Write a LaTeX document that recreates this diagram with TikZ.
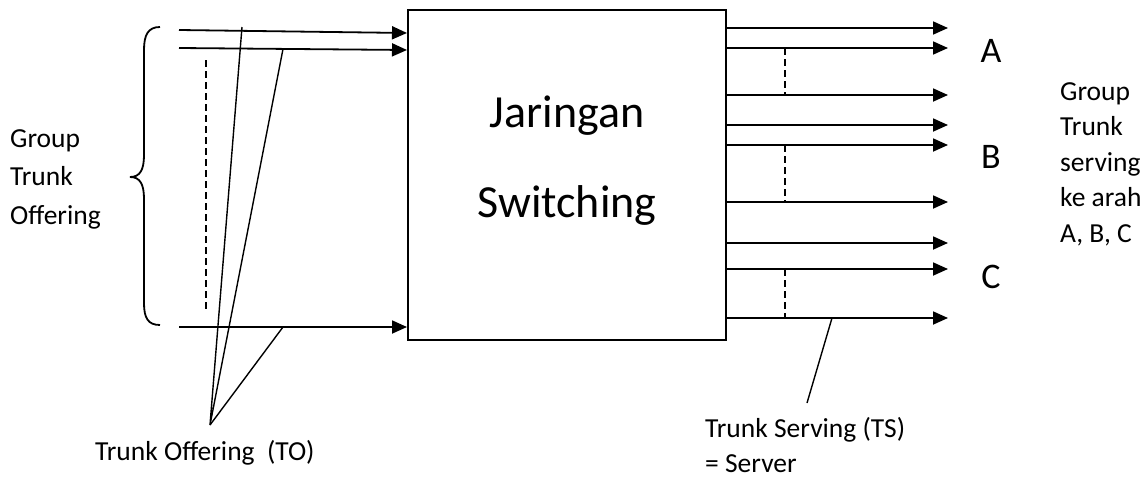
\documentclass[tikz,border=0pt]{standalone}
\usepackage{fontspec}
\setmainfont{Carlito}
\usetikzlibrary{arrows.meta}
\begin{document}
\begin{tikzpicture}[x=1pt,y=-1pt,
  lbl/.style={font=\fontsize{27.5}{33}\selectfont, inner sep=0pt, anchor=base west},
  big/.style={font=\fontsize{46}{55}\selectfont, inner sep=0pt, anchor=base},
  abc/.style={font=\fontsize{36}{43}\selectfont, inner sep=0pt, anchor=base},
  trunk/.style={line width=1.8pt, -{Triangle[length=15pt,width=13pt]}},
  lead/.style={line width=1.4pt},
  dsh/.style={line width=1.5pt, dash pattern=on 7pt off 4pt},
  boxst/.style={draw, line width=2pt, minimum width=318pt, minimum height=330pt, inner sep=0pt}]
\useasboundingbox (0,0) rectangle (1148,479);

% switching box
\node[boxst] (sw) at (567,175) {};
\node[big] (jar) at (567,127) {Jaringan};
\node[big] (swt) at (567,217) {Switching};

% input trunks
\coordinate (i1) at (179,30);
\coordinate (i2) at (179,48);
\coordinate (i3) at (179,327);
\draw[trunk] (i1) -- (sw.west |- 0,33);
\draw[trunk] (i2) -- (sw.west |- 0,50);
\draw[trunk] (i3) -- (sw.west |- 0,327);
\draw[dsh] (206,60) coordinate (d0) -- (206,312) coordinate (d1);

% brace
\draw[line width=1.8pt] (160,27) .. controls (148,27) and (144,35) .. (144,50)
  -- (144,155) .. controls (144,170) and (140,177) .. (130,177)
  .. controls (140,177) and (144,184) .. (144,199)
  -- (144,303) .. controls (144,318) and (148,325) .. (160,325);

% left labels
\node[lbl] (g1) at (10,147) {Group};
\node[lbl] (g2) at (10,185.5) {Trunk};
\node[lbl] (g3) at (10,224) {Offering};

% trunk offering leader lines
\coordinate (to) at (210,425);
\coordinate (t1) at (242,27);
\coordinate (t2) at (283,49);
\coordinate (t3) at (283,327);
\draw[lead] (t1) -- (to) -- (t2);
\draw[lead] (to) -- (t3);
\node[lbl] (tol) at (95,460) {Trunk Offering~~(TO)};

% output trunks
\foreach \y/\n in {28/o1,48/o2,95/o3,125/o4,145/o5,202/o6,243/o7,269/o8,318/o9}{
  \coordinate (\n) at (948,\y);
  \draw[trunk] (sw.east |- 0,\y) -- (\n);
}
\draw[dsh] (785,48) coordinate (r1a) -- (785,95) coordinate (r1b);
\draw[dsh] (785,145) coordinate (r2a) -- (785,202) coordinate (r2b);
\draw[dsh] (785,269) coordinate (r3a) -- (785,318) coordinate (r3b);

% A B C
\node[abc] (A) at (991,62) {A};
\node[abc] (B) at (991,168) {B};
\node[abc] (C) at (991,288) {C};

% right labels
\node[lbl] (h1) at (1060,100) {Group};
\node[lbl] (h2) at (1060,135.5) {Trunk};
\node[lbl] (h3) at (1060,171) {serving};
\node[lbl] (h4) at (1060,206.5) {ke arah};
\node[lbl] (h5) at (1060,242) {A, B, C};

% trunk serving leader
\coordinate (ts1) at (832,318);
\coordinate (ts2) at (807,403);
\draw[lead] (ts1) -- (ts2);
\node[lbl] (tsl) at (705,437) {Trunk Serving (TS)};
\node[lbl] (srv) at (705,472) {= Server};
\end{tikzpicture}
\end{document}
